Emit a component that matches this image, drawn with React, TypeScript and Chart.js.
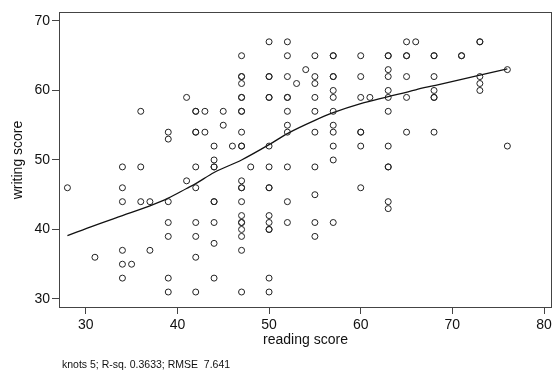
import React, { useEffect, useRef } from "react";
import { Chart, registerables } from "chart.js";

Chart.register(...registerables);

// reading score (x) for each plotted student
const readScores = [
  28,
  31,
  34, 34, 34, 34, 34, 34,
  35,
  36, 36, 36,
  37, 37,
  39, 39, 39, 39, 39, 39, 39,
  41, 41,
  42, 42, 42, 42, 42, 42, 42, 42, 42, 42,
  43, 43,
  44, 44, 44, 44, 44, 44, 44, 44, 44,
  45, 45,
  46,
  47, 47, 47, 47, 47, 47, 47, 47, 47, 47, 47, 47, 47, 47, 47, 47, 47, 47, 47, 47, 47, 47,
  48,
  50, 50, 50, 50, 50, 50, 50, 50, 50, 50, 50, 50, 50, 50, 50,
  52, 52, 52, 52, 52, 52, 52, 52, 52, 52, 52,
  53,
  54,
  55, 55, 55, 55, 55, 55, 55, 55, 55, 55,
  57, 57, 57, 57, 57, 57, 57, 57, 57, 57, 57, 57,
  60, 60, 60, 60, 60, 60, 60,
  61,
  63, 63, 63, 63, 63, 63, 63, 63, 63, 63, 63, 63,
  65, 65, 65, 65, 65, 65,
  66,
  68, 68, 68, 68, 68, 68, 68,
  71, 71,
  73, 73, 73, 73, 73,
  76, 76,
];

// writing score (y), same order as readScores
const writeScores = [
  46,
  36,
  49, 46, 44, 37, 35, 33,
  35,
  57, 49, 44,
  44, 37,
  54, 53, 44, 41, 39, 33, 31,
  59, 47,
  57, 57, 54, 54, 49, 46, 41, 39, 36, 31,
  57, 54,
  52, 50, 49, 49, 44, 44, 41, 38, 33,
  57, 55,
  52,
  65, 62, 62, 61, 59, 59, 57, 57, 54, 52, 52, 47, 46, 46, 44, 42, 41, 41, 40, 39, 37, 31,
  49,
  67, 62, 62, 59, 59, 52, 49, 46, 46, 42, 41, 40, 40, 33, 31,
  67, 65, 62, 59, 59, 57, 55, 54, 49, 44, 41,
  61,
  63,
  65, 62, 61, 59, 57, 54, 49, 45, 41, 39,
  65, 65, 62, 62, 60, 59, 57, 55, 54, 52, 50, 41,
  65, 62, 59, 54, 54, 52, 46,
  59,
  65, 65, 63, 62, 60, 59, 57, 52, 49, 49, 44, 43,
  67, 65, 65, 62, 59, 54,
  67,
  65, 65, 62, 60, 59, 59, 54,
  65, 65,
  67, 67, 62, 61, 60,
  63, 52,
];

// restricted cubic spline fit (5 knots)
const fitRead = [28, 31, 34, 37, 39, 41, 42, 44, 47, 50, 52, 55, 57, 60, 63, 66, 68, 71, 73, 76];
const fitWrite = [39.1, 40.6, 42.0, 43.4, 44.5, 45.9, 46.6, 48.2, 50.0, 52.2, 53.8, 55.7, 56.8, 58.1, 59.1, 60.1, 60.7, 61.6, 62.2, 63.1];

const xTicks = [30, 40, 50, 60, 70, 80];
const yTicks = [30, 40, 50, 60, 70];

const xTitle = "reading score";
const yTitle = "writing score";
const footnote = "knots 5; R-sq. 0.3633; RMSE  7.641";

const FONT = '"Liberation Sans", Arial, Helvetica, sans-serif';

export default function App() {
  const ref = useRef<HTMLCanvasElement>(null);

  useEffect(() => {
    document.body.style.margin = "0";
    const canvas = ref.current;
    if (!canvas) return;

    const points = readScores.map((r, i) => ({ x: r, y: writeScores[i] }));
    const fit = fitRead.map((r, i) => ({ x: r, y: fitWrite[i] }));

    const framePlugin = {
      id: "frame",
      afterDraw(chart: any) {
        const { ctx, chartArea: a } = chart;
        ctx.save();
        ctx.strokeStyle = "#444";
        ctx.lineWidth = 1;
        ctx.strokeRect(a.left + 0.5, a.top + 0.5, a.right - a.left - 1, a.bottom - a.top - 1);
        ctx.fillStyle = "#111";
        ctx.font = `10.5px ${FONT}`;
        ctx.textBaseline = "middle";
        ctx.textAlign = "left";
        ctx.fillText(footnote, 62, 365);
        ctx.restore();
      },
    };

    const chart = new Chart(canvas, {
      type: "scatter",
      data: {
        datasets: [
          {
            type: "scatter",
            data: points,
            pointStyle: "circle",
            pointRadius: 3,
            pointHoverRadius: 3,
            borderWidth: 1,
            borderColor: "#222",
            backgroundColor: "rgba(0,0,0,0)",
          },
          {
            type: "line",
            data: fit,
            borderColor: "#111",
            borderWidth: 1.3,
            pointRadius: 0,
            fill: false,
            cubicInterpolationMode: "monotone",
          } as any,
        ],
      },
      options: {
        animation: false,
        responsive: false,
        maintainAspectRatio: false,
        events: [],
        layout: { padding: { top: 12, right: 0, bottom: 23, left: 0 } },
        plugins: {
          legend: { display: false },
          tooltip: { enabled: false },
        },
        scales: {
          x: {
            type: "linear",
            min: 27.08,
            max: 80.87,
            afterBuildTicks: (s: any) => {
              s.ticks = xTicks.map((v) => ({ value: v }));
            },
            afterFit: (s: any) => {
              s.height = 41;
            },
            grid: { drawOnChartArea: false, drawTicks: true, tickLength: 6, color: "#444" },
            border: { display: false },
            ticks: { color: "#111", padding: 3, font: { family: FONT, size: 14 }, maxRotation: 0, autoSkip: false },
            title: { display: true, text: xTitle, color: "#111", font: { family: FONT, size: 14 }, padding: { top: 0, bottom: 0 } },
          },
          y: {
            type: "linear",
            min: 28.7,
            max: 71.29,
            afterBuildTicks: (s: any) => {
              s.ticks = yTicks.map((v) => ({ value: v }));
            },
            afterFit: (s: any) => {
              s.width = 59;
            },
            grid: { drawOnChartArea: false, drawTicks: true, tickLength: 7, color: "#444" },
            border: { display: false },
            ticks: { color: "#111", padding: 2, font: { family: FONT, size: 14 }, autoSkip: false },
            title: { display: true, text: yTitle, color: "#111", font: { family: FONT, size: 14 }, padding: { top: 10, bottom: 0 } },
          },
        },
      },
      plugins: [framePlugin],
    });

    return () => chart.destroy();
  }, []);

  return (
    <div style={{ width: 556, height: 372, background: "#fff" }}>
      <canvas ref={ref} width={556} height={372} style={{ display: "block", width: 556, height: 372 }} />
    </div>
  );
}
